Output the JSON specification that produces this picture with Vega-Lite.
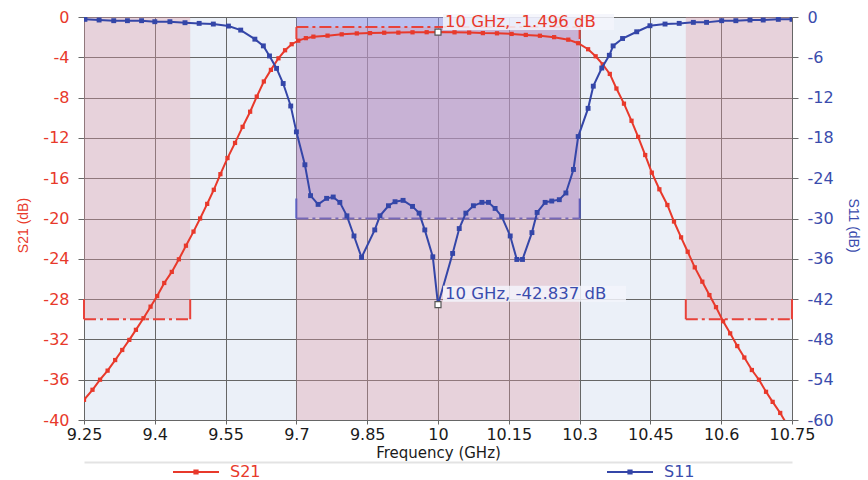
{
  "$schema": "https://vega.github.io/schema/vega-lite/v6.json",
  "width": 708,
  "height": 403,
  "autosize": "none",
  "padding": {"left": 84, "top": 17, "right": 76, "bottom": 60},
  "background": "white",
  "config": {
    "view": {"fill": "#ebf0f8", "stroke": null},
    "font": "DejaVu Sans"
  },
  "datasets": {
    "s21": [
      {"f": 9.25, "db": -38.0}, {"f": 9.268, "db": -37.0}, {"f": 9.284, "db": -36.0}, {"f": 9.3, "db": -35.1},
      {"f": 9.316, "db": -34.05}, {"f": 9.331, "db": -33.05}, {"f": 9.346, "db": -32.05}, {"f": 9.36, "db": -31.05},
      {"f": 9.376, "db": -29.9}, {"f": 9.391, "db": -28.75}, {"f": 9.405, "db": -27.7}, {"f": 9.42, "db": -26.4},
      {"f": 9.436, "db": -25.3}, {"f": 9.451, "db": -24.05}, {"f": 9.466, "db": -22.7}, {"f": 9.482, "db": -21.3},
      {"f": 9.496, "db": -20.0}, {"f": 9.511, "db": -18.55}, {"f": 9.525, "db": -17.15}, {"f": 9.539, "db": -15.6},
      {"f": 9.554, "db": -14.0}, {"f": 9.57, "db": -12.5}, {"f": 9.586, "db": -10.9}, {"f": 9.602, "db": -9.4},
      {"f": 9.616, "db": -7.9}, {"f": 9.631, "db": -6.4}, {"f": 9.646, "db": -5.25}, {"f": 9.662, "db": -4.1},
      {"f": 9.676, "db": -3.3}, {"f": 9.69, "db": -2.7}, {"f": 9.704, "db": -2.35}, {"f": 9.72, "db": -2.1},
      {"f": 9.736, "db": -1.95}, {"f": 9.766, "db": -1.85}, {"f": 9.796, "db": -1.72}, {"f": 9.828, "db": -1.63},
      {"f": 9.856, "db": -1.6}, {"f": 9.886, "db": -1.56}, {"f": 9.916, "db": -1.55}, {"f": 9.946, "db": -1.52},
      {"f": 9.976, "db": -1.51}, {"f": 10.0, "db": -1.496}, {"f": 10.035, "db": -1.52}, {"f": 10.066, "db": -1.55},
      {"f": 10.095, "db": -1.6}, {"f": 10.125, "db": -1.62}, {"f": 10.156, "db": -1.68}, {"f": 10.186, "db": -1.78},
      {"f": 10.216, "db": -1.86}, {"f": 10.246, "db": -2.0}, {"f": 10.276, "db": -2.25}, {"f": 10.297, "db": -2.6},
      {"f": 10.318, "db": -3.2}, {"f": 10.334, "db": -3.9}, {"f": 10.349, "db": -4.7}, {"f": 10.364, "db": -5.65},
      {"f": 10.378, "db": -7.1}, {"f": 10.394, "db": -8.6}, {"f": 10.41, "db": -10.3}, {"f": 10.424, "db": -11.9},
      {"f": 10.439, "db": -13.7}, {"f": 10.453, "db": -15.45}, {"f": 10.469, "db": -17.1}, {"f": 10.486, "db": -18.66},
      {"f": 10.5, "db": -20.3}, {"f": 10.515, "db": -21.87}, {"f": 10.529, "db": -23.3}, {"f": 10.544, "db": -24.85},
      {"f": 10.56, "db": -26.27}, {"f": 10.575, "db": -27.6}, {"f": 10.589, "db": -28.8}, {"f": 10.604, "db": -30.2},
      {"f": 10.619, "db": -31.4}, {"f": 10.634, "db": -32.66}, {"f": 10.649, "db": -33.8}, {"f": 10.665, "db": -35.04},
      {"f": 10.68, "db": -36.0}, {"f": 10.695, "db": -37.2}, {"f": 10.709, "db": -38.2}, {"f": 10.725, "db": -39.3},
      {"f": 10.75, "db": -41.3}
    ],
    "s11": [
      {"f": 9.252, "db": -0.35}, {"f": 9.282, "db": -0.45}, {"f": 9.313, "db": -0.55}, {"f": 9.342, "db": -0.55},
      {"f": 9.372, "db": -0.55}, {"f": 9.4, "db": -0.7}, {"f": 9.432, "db": -0.7}, {"f": 9.464, "db": -0.85},
      {"f": 9.494, "db": -0.95}, {"f": 9.524, "db": -1.05}, {"f": 9.556, "db": -1.35}, {"f": 9.582, "db": -1.95},
      {"f": 9.612, "db": -3.3}, {"f": 9.63, "db": -4.3}, {"f": 9.643, "db": -5.8}, {"f": 9.658, "db": -7.65},
      {"f": 9.672, "db": -9.9}, {"f": 9.688, "db": -13.25}, {"f": 9.7, "db": -17.1}, {"f": 9.718, "db": -22.0},
      {"f": 9.73, "db": -26.6}, {"f": 9.746, "db": -27.9}, {"f": 9.764, "db": -27.0}, {"f": 9.778, "db": -26.8},
      {"f": 9.792, "db": -27.6}, {"f": 9.807, "db": -29.6}, {"f": 9.822, "db": -32.6}, {"f": 9.838, "db": -35.8},
      {"f": 9.866, "db": -31.7}, {"f": 9.877, "db": -29.6}, {"f": 9.895, "db": -28.1}, {"f": 9.909, "db": -27.5},
      {"f": 9.926, "db": -27.3}, {"f": 9.946, "db": -28.2}, {"f": 9.96, "db": -29.2}, {"f": 9.972, "db": -31.7},
      {"f": 9.989, "db": -35.7}, {"f": 10.0, "db": -42.837}, {"f": 10.031, "db": -35.2}, {"f": 10.045, "db": -31.5},
      {"f": 10.059, "db": -29.2}, {"f": 10.075, "db": -28.1}, {"f": 10.093, "db": -27.6}, {"f": 10.107, "db": -27.6},
      {"f": 10.121, "db": -28.5}, {"f": 10.135, "db": -29.7}, {"f": 10.153, "db": -32.6}, {"f": 10.167, "db": -36.1},
      {"f": 10.179, "db": -36.1}, {"f": 10.199, "db": -32.1}, {"f": 10.21, "db": -29.1}, {"f": 10.227, "db": -27.6},
      {"f": 10.241, "db": -27.4}, {"f": 10.257, "db": -27.2}, {"f": 10.271, "db": -26.2}, {"f": 10.287, "db": -22.7},
      {"f": 10.297, "db": -17.8}, {"f": 10.318, "db": -13.6}, {"f": 10.329, "db": -10.3}, {"f": 10.347, "db": -7.6},
      {"f": 10.363, "db": -5.7}, {"f": 10.371, "db": -4.3}, {"f": 10.391, "db": -3.2}, {"f": 10.421, "db": -2.2},
      {"f": 10.449, "db": -1.3}, {"f": 10.481, "db": -1.05}, {"f": 10.511, "db": -0.95}, {"f": 10.541, "db": -0.8},
      {"f": 10.569, "db": -0.8}, {"f": 10.601, "db": -0.55}, {"f": 10.631, "db": -0.55}, {"f": 10.661, "db": -0.45},
      {"f": 10.689, "db": -0.45}, {"f": 10.721, "db": -0.35}, {"f": 10.75, "db": -0.35}
    ],
    "s21Stop": [
      {"fStart": 9.25, "fStop": 9.475, "limit": -30},
      {"fStart": 10.525, "fStop": 10.75, "limit": -30}
    ],
    "s21Pass": [{"fStart": 9.7, "fStop": 10.3, "limit": -1}],
    "s11Pass": [{"fStart": 9.7, "fStop": 10.3, "limit": -30}],
    "s21Marker": [{"f": 10, "db": -1.496, "note": "10 GHz, -1.496 dB"}],
    "s11Marker": [{"f": 10, "db": -42.837, "note": "10 GHz, -42.837 dB"}]
  },
  "layer": [
    {
      "layer": [
        {
          "data": {"name": "s11Pass"},
          "mark": {"type": "rect", "fill": "#8d8de6", "opacity": 0.5},
          "encoding": {
            "x": {
              "field": "fStart", "type": "quantitative",
              "scale": {"domain": [9.25, 10.75], "nice": false, "zero": false},
              "axis": {"orient": "bottom", "offset": 42, "domain": true, "domainColor": "#e3e3e3", "domainWidth": 2, "labels": false, "ticks": false, "grid": false, "title": null}
            },
            "x2": {"field": "fStop"},
            "y": {
              "field": "limit", "type": "quantitative",
              "scale": {"domain": [-60, 0], "nice": false, "zero": false},
              "axis": {
                "orient": "right",
                "values": [0, -6, -12, -18, -24, -30, -36, -42, -48, -54, -60],
                "grid": false,
                "domain": false,
                "tickSize": 6,
                "tickColor": "#6a6a6a",
                "labelExpr": "'' + datum.value",
                "labelFont": "DejaVu Sans",
                "labelFontSize": 16,
                "labelColor": "#3a4cad",
                "labelPadding": 9,
                "title": "S11 (dB)",
                "titleAngle": 90,
                "titleY": 208,
                "titleFont": "Liberation Sans",
                "titleFontSize": 14,
                "titleFontWeight": "normal",
                "titleColor": "#3a4cad",
                "titlePadding": 12
              }
            },
            "y2": {"datum": 0}
          }
        },
        {
          "data": {"name": "s11Pass"},
          "mark": {"type": "rule", "stroke": "#3f4fc2", "strokeWidth": 2, "strokeDash": [12, 4, 3, 4]},
          "encoding": {
            "x": {"field": "fStart", "type": "quantitative", "scale": {"domain": [9.25, 10.75], "nice": false, "zero": false}},
            "x2": {"field": "fStop"},
            "y": {"field": "limit", "type": "quantitative", "scale": {"domain": [-60, 0], "nice": false, "zero": false}}
          }
        },
        {
          "data": {"name": "s11Pass"},
          "transform": [{"fold": ["fStart", "fStop"], "as": ["edge", "freq"]}],
          "mark": {"type": "rule", "stroke": "#3f4fc2", "strokeWidth": 2, "y2Offset": -20},
          "encoding": {
            "x": {"field": "freq", "type": "quantitative", "scale": {"domain": [9.25, 10.75], "nice": false, "zero": false}},
            "y": {"field": "limit", "type": "quantitative", "scale": {"domain": [-60, 0], "nice": false, "zero": false}},
            "y2": {"field": "limit"}
          }
        }
      ]
    },
    {
      "layer": [
        {
          "data": {"name": "s21Stop"},
          "mark": {"type": "rect", "fill": "#e09aa6", "opacity": 0.35},
          "encoding": {
            "x": {
              "field": "fStart", "type": "quantitative",
              "scale": {"domain": [9.25, 10.75], "nice": false, "zero": false},
              "axis": {
                "orient": "bottom",
                "values": [9.25, 9.325, 9.4, 9.475, 9.55, 9.625, 9.7, 9.775, 9.85, 9.925, 10, 10.075, 10.15, 10.225, 10.3, 10.375, 10.45, 10.525, 10.6, 10.675, 10.75],
                "grid": true,
                "gridColor": {"condition": {"test": "round((datum.value - 9.25) / 0.075) % 2 === 0", "value": "#666666"}, "value": "#cdd3e0"},
                "gridWidth": 1,
                "domain": false,
                "ticks": true,
                "tickSize": 4,
                "tickColor": {"condition": {"test": "round((datum.value - 9.25) / 0.075) % 2 === 0", "value": "#666666"}, "value": "transparent"},
                "labelExpr": "round((datum.value - 9.25) / 0.075) % 2 === 0 ? '' + datum.value : ''",
                "labelFlush": false,
                "labelOverlap": false,
                "labelFont": "DejaVu Sans",
                "labelFontSize": 16,
                "labelColor": "#1a1a1a",
                "labelPadding": 2,
                "title": "Frequency (GHz)",
                "titleFont": "DejaVu Sans",
                "titleFontSize": 15,
                "titleFontWeight": "normal",
                "titleColor": "#1a1a1a",
                "titlePadding": 3
              }
            },
            "x2": {"field": "fStop"},
            "y": {
              "field": "limit", "type": "quantitative",
              "scale": {"domain": [-40, 0], "nice": false, "zero": false},
              "axis": {
                "orient": "left",
                "values": [0, -2, -4, -6, -8, -10, -12, -14, -16, -18, -20, -22, -24, -26, -28, -30, -32, -34, -36, -38, -40],
                "grid": true,
                "gridColor": {"condition": {"test": "datum.value % 4 === 0", "value": "#666666"}, "value": "#cdd3e0"},
                "gridWidth": 1,
                "domain": false,
                "tickSize": 6,
                "tickColor": {"condition": {"test": "datum.value % 4 === 0", "value": "#666666"}, "value": "transparent"},
                "labelExpr": "datum.value % 4 === 0 ? '' + datum.value : ''",
                "labelOverlap": false,
                "labelFont": "DejaVu Sans",
                "labelFontSize": 16,
                "labelColor": "#e8392b",
                "labelPadding": 9,
                "title": "S21 (dB)",
                "titleY": 208,
                "titleFont": "Liberation Sans",
                "titleFontSize": 14,
                "titleFontWeight": "normal",
                "titleColor": "#e8392b",
                "titlePadding": 12
              }
            },
            "y2": {"datum": 0}
          }
        },
        {
          "data": {"name": "s21Pass"},
          "mark": {"type": "rect", "fill": "#e09aa6", "opacity": 0.35},
          "encoding": {
            "x": {"field": "fStart", "type": "quantitative", "scale": {"domain": [9.25, 10.75], "nice": false, "zero": false}},
            "x2": {"field": "fStop"},
            "y": {"field": "limit", "type": "quantitative", "scale": {"domain": [-40, 0], "nice": false, "zero": false}},
            "y2": {"datum": -40}
          }
        }
      ]
    },
    {
      "layer": [
        {
          "data": {"name": "s21Stop"},
          "mark": {"type": "rule", "stroke": "#e8423a", "strokeWidth": 2, "strokeDash": [12, 4, 3, 4]},
          "encoding": {
            "x": {"field": "fStart", "type": "quantitative", "scale": {"domain": [9.25, 10.75], "nice": false, "zero": false}, "axis": null},
            "x2": {"field": "fStop"},
            "y": {"field": "limit", "type": "quantitative", "scale": {"domain": [-40, 0], "nice": false, "zero": false}, "axis": null}
          }
        },
        {
          "data": {"name": "s21Stop"},
          "transform": [{"fold": ["fStart", "fStop"], "as": ["edge", "freq"]}],
          "mark": {"type": "rule", "stroke": "#e8423a", "strokeWidth": 2, "y2Offset": -20},
          "encoding": {
            "x": {"field": "freq", "type": "quantitative", "scale": {"domain": [9.25, 10.75], "nice": false, "zero": false}, "axis": null},
            "y": {"field": "limit", "type": "quantitative", "scale": {"domain": [-40, 0], "nice": false, "zero": false}, "axis": null},
            "y2": {"field": "limit"}
          }
        },
        {
          "data": {"name": "s21Pass"},
          "mark": {"type": "rule", "stroke": "#e8423a", "strokeWidth": 2, "strokeDash": [12, 4, 3, 4]},
          "encoding": {
            "x": {"field": "fStart", "type": "quantitative", "scale": {"domain": [9.25, 10.75], "nice": false, "zero": false}, "axis": null},
            "x2": {"field": "fStop"},
            "y": {"field": "limit", "type": "quantitative", "scale": {"domain": [-40, 0], "nice": false, "zero": false}, "axis": null}
          }
        },
        {
          "data": {"name": "s21Pass"},
          "transform": [{"fold": ["fStart", "fStop"], "as": ["edge", "freq"]}],
          "mark": {"type": "rule", "stroke": "#e8423a", "strokeWidth": 2, "y2Offset": 12},
          "encoding": {
            "x": {"field": "freq", "type": "quantitative", "scale": {"domain": [9.25, 10.75], "nice": false, "zero": false}, "axis": null},
            "y": {"field": "limit", "type": "quantitative", "scale": {"domain": [-40, 0], "nice": false, "zero": false}, "axis": null},
            "y2": {"field": "limit"}
          }
        },
        {
          "data": {"name": "s21"},
          "mark": {"type": "line", "strokeWidth": 2, "clip": true, "point": {"shape": "square", "size": 18, "filled": true}},
          "encoding": {
            "x": {"field": "f", "type": "quantitative", "scale": {"domain": [9.25, 10.75], "nice": false, "zero": false}, "axis": null},
            "y": {"field": "db", "type": "quantitative", "scale": {"domain": [-40, 0], "nice": false, "zero": false}, "axis": null},
            "color": {
              "datum": "S21", "type": "nominal",
              "scale": {"domain": ["S21", "S11"], "range": ["#e8392b", "#3446a8"]},
              "legend": {
                "orient": "none", "legendX": 88, "legendY": 431, "direction": "horizontal", "title": null,
                "symbolType": "M-1,0L1,0M-0.07,-0.07L0.07,-0.07L0.07,0.07L-0.07,0.07Z",
                "symbolSize": 2116, "symbolStrokeWidth": 2,
                "labelFont": "DejaVu Sans", "labelFontSize": 16, "labelOffset": 10, "columnPadding": 342,
                "encode": {
                  "labels": {"update": {"fill": {"signal": "datum.value === 'S21' ? '#e8392b' : '#3a4cad'"}}},
                  "symbols": {"update": {"fill": {"signal": "datum.value === 'S21' ? '#e8392b' : '#3446a8'"}}}
                }
              }
            }
          }
        },
        {
          "data": {"name": "s21Marker"},
          "mark": {"type": "rect", "fill": "#f3f4fb", "opacity": 0.85, "xOffset": 5, "x2Offset": 176, "yOffset": -18, "y2Offset": -2},
          "encoding": {
            "x": {"field": "f", "type": "quantitative", "scale": {"domain": [9.25, 10.75], "nice": false, "zero": false}, "axis": null},
            "x2": {"field": "f"},
            "y": {"field": "db", "type": "quantitative", "scale": {"domain": [-40, 0], "nice": false, "zero": false}, "axis": null},
            "y2": {"field": "db"}
          }
        },
        {
          "data": {"name": "s21Marker"},
          "mark": {"type": "text", "align": "left", "baseline": "middle", "dx": 7, "dy": -10, "font": "DejaVu Sans", "fontSize": 16.5, "fill": "#e8392b"},
          "encoding": {
            "x": {"field": "f", "type": "quantitative", "scale": {"domain": [9.25, 10.75], "nice": false, "zero": false}, "axis": null},
            "y": {"field": "db", "type": "quantitative", "scale": {"domain": [-40, 0], "nice": false, "zero": false}, "axis": null},
            "text": {"field": "note"}
          }
        },
        {
          "data": {"name": "s21Marker"},
          "mark": {"type": "point", "shape": "square", "size": 36, "filled": true, "fill": "white", "stroke": "#555555", "strokeWidth": 1.2, "opacity": 1},
          "encoding": {
            "x": {"field": "f", "type": "quantitative", "scale": {"domain": [9.25, 10.75], "nice": false, "zero": false}, "axis": null},
            "y": {"field": "db", "type": "quantitative", "scale": {"domain": [-40, 0], "nice": false, "zero": false}, "axis": null}
          }
        }
      ]
    },
    {
      "layer": [
        {
          "data": {"name": "s11"},
          "mark": {"type": "line", "strokeWidth": 2, "clip": true, "point": {"shape": "square", "size": 24, "filled": true}},
          "encoding": {
            "x": {"field": "f", "type": "quantitative", "scale": {"domain": [9.25, 10.75], "nice": false, "zero": false}, "axis": null},
            "y": {"field": "db", "type": "quantitative", "scale": {"domain": [-60, 0], "nice": false, "zero": false}, "axis": null},
            "color": {
              "datum": "S11", "type": "nominal",
              "scale": {"domain": ["S21", "S11"], "range": ["#e8392b", "#3446a8"]},
              "legend": {
                "orient": "none", "legendX": 88, "legendY": 431, "direction": "horizontal", "title": null,
                "symbolType": "M-1,0L1,0M-0.07,-0.07L0.07,-0.07L0.07,0.07L-0.07,0.07Z",
                "symbolSize": 2116, "symbolStrokeWidth": 2,
                "labelFont": "DejaVu Sans", "labelFontSize": 16, "labelOffset": 10, "columnPadding": 342,
                "encode": {
                  "labels": {"update": {"fill": {"signal": "datum.value === 'S21' ? '#e8392b' : '#3a4cad'"}}},
                  "symbols": {"update": {"fill": {"signal": "datum.value === 'S21' ? '#e8392b' : '#3446a8'"}}}
                }
              }
            }
          }
        },
        {
          "data": {"name": "s11Marker"},
          "mark": {"type": "rect", "fill": "#f3f4fb", "opacity": 0.85, "xOffset": 5, "x2Offset": 188, "yOffset": -19, "y2Offset": -3},
          "encoding": {
            "x": {"field": "f", "type": "quantitative", "scale": {"domain": [9.25, 10.75], "nice": false, "zero": false}, "axis": null},
            "x2": {"field": "f"},
            "y": {"field": "db", "type": "quantitative", "scale": {"domain": [-60, 0], "nice": false, "zero": false}, "axis": null},
            "y2": {"field": "db"}
          }
        },
        {
          "data": {"name": "s11Marker"},
          "mark": {"type": "text", "align": "left", "baseline": "middle", "dx": 7, "dy": -11, "font": "DejaVu Sans", "fontSize": 16.5, "fill": "#3a4cad"},
          "encoding": {
            "x": {"field": "f", "type": "quantitative", "scale": {"domain": [9.25, 10.75], "nice": false, "zero": false}, "axis": null},
            "y": {"field": "db", "type": "quantitative", "scale": {"domain": [-60, 0], "nice": false, "zero": false}, "axis": null},
            "text": {"field": "note"}
          }
        },
        {
          "data": {"name": "s11Marker"},
          "mark": {"type": "point", "shape": "square", "size": 36, "filled": true, "fill": "white", "stroke": "#555555", "strokeWidth": 1.2, "opacity": 1},
          "encoding": {
            "x": {"field": "f", "type": "quantitative", "scale": {"domain": [9.25, 10.75], "nice": false, "zero": false}, "axis": null},
            "y": {"field": "db", "type": "quantitative", "scale": {"domain": [-60, 0], "nice": false, "zero": false}, "axis": null}
          }
        }
      ]
    }
  ],
  "resolve": {"scale": {"y": "independent"}, "axis": {"x": "independent"}}
}
